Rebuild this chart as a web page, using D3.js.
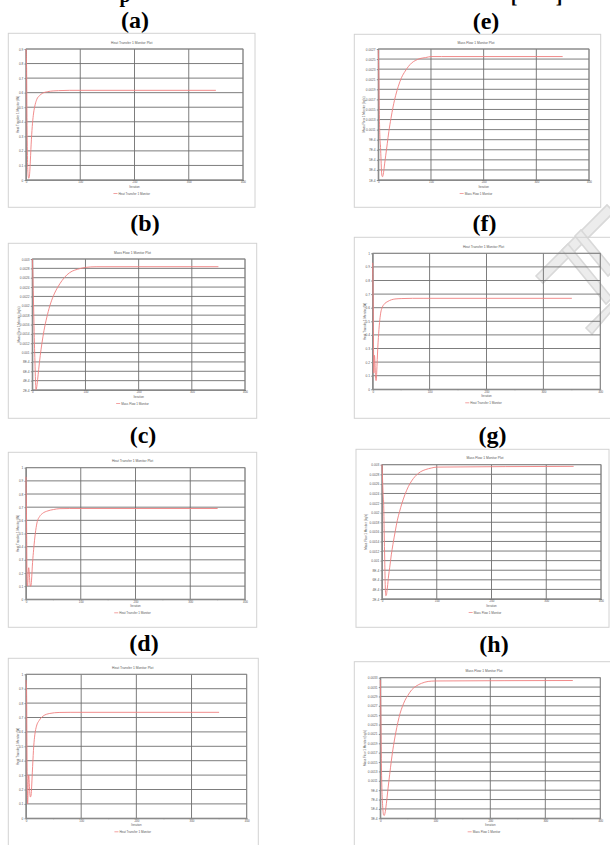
<!DOCTYPE html>
<html><head><meta charset="utf-8">
<script src="https://cdn.jsdelivr.net/npm/d3@7"></script>
<style>body{margin:0;background:#fff}svg{display:block}</style>
</head><body>
<svg id="c" width="610" height="845"></svg>
<script>
// ---------------- DATA ----------------
const panelIds = ["a","b","c","d","e","f","g","h"];
const panelLabels = ["(a)","(b)","(c)","(d)","(e)","(f)","(g)","(h)"];
const heatTitle = "Heat Transfer 1 Monitor Plot";
const massTitle = "Mass Flow 1 Monitor Plot";
const heatSeries = "Heat Transfer 1 Monitor";
const massSeries = "Mass Flow 1 Monitor";
const heatYTitle = "Heat Transfer 1 Monitor (W)";
const massYTitle = "Mass Flow 1 Monitor (kg/s)";
const xTitle = "Iteration";
const xTickValues = [0,100,200,300,400];
const xMinorTicks = [50,150,250,350];

// y tick values / labels
const yTicksA = [0.9,0.8,0.7,0.6,0.5,0.4,0.3,0.2,0.1,0.0];
const yLabelsA = ["0.9","0.8","0.7","0.6","0.5","0.4","0.3","0.2","0.1","0"];
const yTicksHeat = [1.0,0.9,0.8,0.7,0.6,0.5,0.4,0.3,0.2,0.1,0.0];
const yLabelsHeat = ["1","0.9","0.8","0.7","0.6","0.5","0.4","0.3","0.2","0.1","0"];
const yTicksBG = [0.003,0.0028,0.0026,0.0024,0.0022,0.002,0.0018,0.0016,0.0014,0.0012,0.001,0.0008,0.0006,0.0004,0.0002];
const yLabelsBG = ["0.003","0.0028","0.0026","0.0024","0.0022","0.002","0.0018","0.0016","0.0014","0.0012","0.001","8E-4","6E-4","4E-4","2E-4"];
const yTicksE = [0.0027,0.0025,0.0023,0.0021,0.0019,0.0017,0.0015,0.0013,0.0011,0.0009,0.0007,0.0005,0.0003,0.0001];
const yLabelsE = ["0.0027","0.0025","0.0023","0.0021","0.0019","0.0017","0.0015","0.0013","0.0011","9E-4","7E-4","5E-4","3E-4","1E-4"];
const yTicksH = [0.0033,0.0031,0.0029,0.0027,0.0025,0.0023,0.0021,0.0019,0.0017,0.0015,0.0013,0.0011,0.0009,0.0007,0.0005,0.0003];
const yLabelsH = ["0.0033","0.0031","0.0029","0.0027","0.0025","0.0023","0.0021","0.0019","0.0017","0.0015","0.0013","0.0011","9E-4","7E-4","5E-4","3E-4"];

// series (iteration, value)
const iterA = [0,1,2,3,4,5,6,7,8,9,10,12,14,17,20,25,30,40,50,60,80,350];
const valA  = [0.90,0.80,0.35,0.10,0.03,0.012,0.02,0.06,0.13,0.21,0.28,0.39,0.46,0.52,0.555,0.58,0.595,0.607,0.612,0.614,0.616,0.616];
const iterB = [0,1,2,3,4,5,6,7,8,9,10,12,15,18,22,27,33,40,48,56,65,75,85,100,120,350];
const valB  = [0.0030,0.0027,0.0022,0.0017,0.0012,0.0008,0.0004,0.00021,0.00024,0.00032,0.00042,0.00064,0.00094,0.00119,0.00147,0.00174,0.00200,0.00222,0.00240,0.00254,0.00266,0.00274,0.00278,0.00282,0.002835,0.002836];
const iterC = [0,1,2,3,4,5,6,7,8,9,10,12,14,17,20,25,30,40,50,62,80,350];
const valC  = [0.93,0.60,0.12,0.10,0.20,0.24,0.20,0.13,0.10,0.10,0.14,0.28,0.38,0.50,0.58,0.63,0.652,0.672,0.682,0.689,0.69,0.69];
const iterD = [0,1,2,3,4,5,6,7,8,9,10,11,12,14,16,19,24,31,43,60,80,350];
const valD  = [0.96,0.90,0.35,0.10,0.25,0.30,0.24,0.17,0.148,0.155,0.20,0.28,0.36,0.50,0.58,0.64,0.68,0.71,0.728,0.735,0.736,0.736];
const iterE = [0,1,2,3,4,5,6,7,8,9,10,12,14,17,20,24,28,33,38,44,51,57,63,70,79,90,100,120,350];
const valE  = [0.00268,0.0022,0.0014,0.00096,0.0008,0.00056,0.00030,0.00018,0.000165,0.00019,0.00025,0.00042,0.00058,0.00082,0.00106,0.00132,0.00155,0.00178,0.00196,0.00213,0.00226,0.00235,0.00242,0.00247,0.00251,0.00253,0.00255,0.00255,0.00255];
const iterF = [0,1,2,3,4,5,6,7,8,9,10,12,14,17,20,27,39,50,70,90,350];
const valF  = [0.93,0.55,0.12,0.25,0.20,0.09,0.064,0.12,0.22,0.31,0.38,0.49,0.56,0.605,0.625,0.647,0.664,0.667,0.669,0.669,0.669];
const iterG = [0,1,2,3,4,5,6,7,8,9,10,12,14,17,20,24,28,32,36,42,48,54,60,70,80,90,100,350];
const valG  = [0.0030,0.0027,0.0024,0.0022,0.0016,0.0010,0.00045,0.00027,0.00028,0.00036,0.00045,0.00068,0.00085,0.00112,0.00134,0.00160,0.00184,0.00202,0.00218,0.00238,0.00254,0.00266,0.00275,0.00285,0.00290,0.00293,0.00295,0.002965];
const iterH = [0,1,2,3,4,5,6,7,8,9,10,12,14,17,20,24,28,32,36,40,45,50,57,65,75,87,100,350];
const valH  = [0.00325,0.0025,0.00147,0.0009,0.00062,0.00045,0.00037,0.00036,0.00038,0.00044,0.00052,0.00071,0.00093,0.00123,0.00152,0.00185,0.00212,0.00235,0.00254,0.00268,0.00282,0.00292,0.00304,0.00312,0.00318,0.00322,0.00323,0.00324];

// ---------------- LAYOUT ----------------
const layout = {
  a:{frame:[8.3,33.3,255,207.3], plot:[26,49,243,180],   label:[135,21],  cx:131.7, ytx:18.5},
  b:{frame:[8.3,243.3,256.7,418.3], plot:[32.3,259,245,390], label:[145,224], cx:132.5, ytx:19},
  c:{frame:[8.3,452.3,256.7,627.3], plot:[26,467.7,245,599.3], label:[143,436], cx:132.5, ytx:18.3},
  d:{frame:[8.3,658.3,258.3,850], plot:[26,674.3,246.7,818.3], label:[144,644], cx:132.7, ytx:18.3},
  e:{frame:[354.3,34.3,600.7,207.3], plot:[378.3,49,589,180], label:[486,22], cx:476, ytx:364.3},
  f:{frame:[354.3,237.3,614,418.3], plot:[372.7,253.3,600.3,389.3], label:[484.5,224], cx:483.5, ytx:365.7},
  g:{frame:[356,449.3,609,627.3], plot:[382,464.7,601,599], label:[492.5,436], cx:485, ytx:366.7},
  h:{frame:[354.3,661.7,614,850], plot:[380.3,677.7,600.3,818.3], label:[494,645], cx:484, ytx:365}
};

const panels = {
  a:{kind:"heat", ticks:yTicksA, labels:yLabelsA, it:iterA, v:valA},
  b:{kind:"mass", ticks:yTicksBG, labels:yLabelsBG, it:iterB, v:valB},
  c:{kind:"heat", ticks:yTicksHeat, labels:yLabelsHeat, it:iterC, v:valC},
  d:{kind:"heat", ticks:yTicksHeat, labels:yLabelsHeat, it:iterD, v:valD},
  e:{kind:"mass", ticks:yTicksE, labels:yLabelsE, it:iterE, v:valE},
  f:{kind:"heat", ticks:yTicksHeat, labels:yLabelsHeat, it:iterF, v:valF},
  g:{kind:"mass", ticks:yTicksBG, labels:yLabelsBG, it:iterG, v:valG},
  h:{kind:"mass", ticks:yTicksH, labels:yLabelsH, it:iterH, v:valH}
};

// ---------------- DRAW ----------------
const svg = d3.select("#c");
svg.append("rect").attr("width",610).attr("height",845).attr("fill","#fff");

// cut-off caption at the very top
const topG = svg.append("g").attr("font-family","Liberation Serif, serif").attr("font-weight","bold").attr("font-size",20).attr("fill","#000");
topG.append("text").attr("x",125).attr("y",2).attr("text-anchor","middle").text("p");
topG.append("text").attr("x",514).attr("y",3).attr("text-anchor","middle").text("[");
topG.append("text").attr("x",559).attr("y",3).attr("text-anchor","middle").text("]");

// watermark (light grey diagonal strokes, upper right)
const wm = svg.append("g").attr("fill","none").attr("stroke","#d9d9d9").attr("stroke-width",1.6);
const wmPolys = [
  [[536,276],[543,283],[614,212],[607,205]],
  [[562,250],[568,244],[612,298],[606,304]],
  [[575,236],[581,230],[614,270],[608,276]],
  [[592,334],[586,328],[612,302],[614,308]]
];
wm.selectAll("polygon").data(wmPolys).join("polygon")
  .attr("points",d=>d.map(p=>p.join(",")).join(" ")).attr("fill","#ececec");

const textCol = "#5a5a5a";
const sans = "Liberation Sans, Arial, sans-serif";

function drawPanel(id, idx){
  const L = layout[id], D = panels[id];
  const [fx0,fy0,fx1,fy1] = L.frame;
  const [px0,py0,px1,py1] = L.plot;
  const g = svg.append("g");

  g.append("rect").attr("x",fx0).attr("y",fy0).attr("width",fx1-fx0).attr("height",fy1-fy0)
    .attr("fill","none").attr("stroke","#d2d2d2").attr("stroke-width",1);

  svg.append("text").attr("x",L.label[0]).attr("y",L.label[1]+6.5).attr("text-anchor","middle")
    .attr("font-family","Liberation Serif, Times New Roman, serif").attr("font-weight","bold")
    .attr("font-size",24).attr("fill","#000").text(panelLabels[idx]);

  const x = d3.scaleLinear().domain([0,400]).range([px0,px1]);
  const y = d3.scaleLinear().domain(d3.extent(D.ticks)).range([py1,py0]);

  // grid
  g.selectAll(".hg").data(D.ticks).join("line")
    .attr("x1",px0).attr("x2",px1).attr("y1",d=>y(d)).attr("y2",d=>y(d))
    .attr("stroke","#6e6e6e").attr("stroke-width",0.9);
  g.selectAll(".vg").data(xTickValues).join("line")
    .attr("x1",d=>x(d)).attr("x2",d=>x(d)).attr("y1",py0).attr("y2",py1)
    .attr("stroke","#6e6e6e").attr("stroke-width",0.9);
  g.append("rect").attr("x",px0).attr("y",py0).attr("width",px1-px0).attr("height",py1-py0)
    .attr("fill","none").attr("stroke","#8a8a8a").attr("stroke-width",0.8);

  // y axis
  const ya = g.append("g").attr("transform",`translate(${px0},0)`)
    .call(d3.axisLeft(y).tickValues(D.ticks).tickFormat((d,i)=>D.labels[i]).tickSize(1.5).tickSizeOuter(0).tickPadding(1.2));
  ya.select(".domain").attr("stroke","#8a8a8a");
  ya.selectAll("line").attr("stroke","#8a8a8a");
  ya.selectAll("text").attr("font-size",3.2).attr("font-family",sans).attr("fill",textCol);

  // x axis
  const xa = g.append("g").attr("transform",`translate(0,${py1})`)
    .call(d3.axisBottom(x).tickValues(xTickValues).tickFormat(d3.format("d")).tickSize(1).tickSizeOuter(0).tickPadding(0.4));
  xa.select(".domain").attr("stroke","#8a8a8a");
  xa.selectAll("line").attr("stroke","#8a8a8a");
  xa.selectAll("text").attr("font-size",2.9).attr("font-family",sans).attr("fill",textCol);
  g.selectAll(".mt").data(xMinorTicks).join("line")
    .attr("x1",d=>x(d)).attr("x2",d=>x(d)).attr("y1",py1).attr("y2",py1+1)
    .attr("stroke","#8a8a8a").attr("stroke-width",0.6);

  const isHeat = D.kind==="heat";
  // titles
  g.append("text").attr("x",L.cx).attr("y",py0-5.5).attr("text-anchor","middle")
    .attr("font-size",3.3).attr("font-family",sans).attr("fill",textCol)
    .text(isHeat?heatTitle:massTitle);
  g.append("text").attr("x",(px0+px1)/2).attr("y",py1+8).attr("text-anchor","middle")
    .attr("font-size",2.9).attr("font-family",sans).attr("fill",textCol).text(xTitle);
  g.append("text").attr("transform",`translate(${L.ytx},${(py0+py1)/2}) rotate(-90)`)
    .attr("text-anchor","middle").attr("dominant-baseline","middle")
    .attr("font-size",3).attr("font-family",sans).attr("fill",textCol)
    .text(isHeat?heatYTitle:massYTitle);

  // legend
  const lg = g.append("g");
  const lt = lg.append("text").attr("y",py1+14.5).attr("font-size",3).attr("font-family",sans)
    .attr("fill",textCol).text(isHeat?heatSeries:massSeries);
  const tw = lt.node().getComputedTextLength();
  const start = L.cx - (tw+5)/2;
  lt.attr("x",start+5);
  lg.append("line").attr("x1",start).attr("x2",start+4).attr("y1",py1+13.5).attr("y2",py1+13.5)
    .attr("stroke","#f08a8a").attr("stroke-width",0.8);

  // series
  const pts = D.it.map((t,i)=>[t,D.v[i]]);
  const line = d3.line().x(d=>x(d[0])).y(d=>y(d[1])).curve(d3.curveMonotoneX);
  g.append("path").datum(pts).attr("d",line).attr("fill","none")
    .attr("stroke","#ef7f7f").attr("stroke-width",0.9);
}

panelIds.forEach((id,i)=>drawPanel(id,i));
</script>
</body></html>
